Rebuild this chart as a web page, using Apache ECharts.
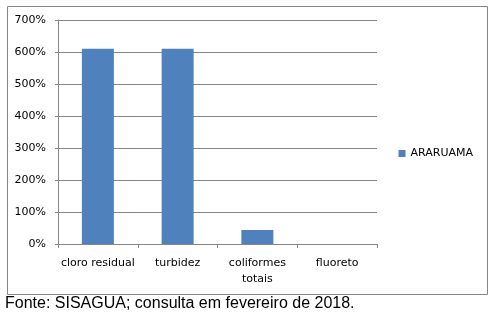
<!DOCTYPE html>
<html><head><meta charset="utf-8">
<script src="https://cdn.jsdelivr.net/npm/echarts@6/dist/echarts.min.js"></script>
<style>html,body{margin:0;padding:0;background:#fff}#c{width:495px;height:323px}</style>
</head><body><div id="c"></div>
<script>
const categories = ['cloro residual', 'turbidez', 'coliformes\ntotais', 'fluoreto'];
const seriesName = 'ARARUAMA';
const values = [610, 610, 44, 0];
const yTicks = [0, 100, 200, 300, 400, 500, 600, 700];
const footnote = 'Fonte: SISAGUA; consulta em fevereiro de 2018.';

const chart = echarts.init(document.getElementById('c'), null, {renderer: 'canvas'});
chart.setOption({
  animation: false,
  backgroundColor: '#fff',
  grid: {left: 58, right: 118, top: 20, bottom: 79, containLabel: false},
  legend: {
    data: [seriesName], right: 17, top: 143, orient: 'vertical',
    itemWidth: 7, itemHeight: 7, itemGap: 4,
    icon: 'rect',
    textStyle: {fontFamily: 'DejaVu Sans', fontSize: 11, color: '#000'}
  },
  xAxis: {
    type: 'category', data: categories,
    axisLine: {lineStyle: {color: '#868686'}},
    axisTick: {show: true, length: 4, alignWithLabel: false, lineStyle: {color: '#868686'}},
    axisLabel: {fontFamily: 'DejaVu Sans', fontSize: 11, color: '#000', margin: 11, lineHeight: 16, interval: 0}
  },
  yAxis: {
    type: 'value', min: yTicks[0], max: yTicks[yTicks.length-1], interval: 100,
    axisLine: {show: true, lineStyle: {color: '#868686'}},
    axisTick: {show: true, length: 3, lineStyle: {color: '#868686'}},
    splitLine: {lineStyle: {color: '#868686'}},
    axisLabel: {fontFamily: 'DejaVu Sans', fontSize: 11, color: '#000', margin: 12, formatter: v => v + '%'}
  },
  series: [{
    name: seriesName, type: 'bar', data: values, barWidth: 32,
    itemStyle: {color: '#4f81bd'}
  }],
  graphic: [
    {type: 'rect', shape: {x: 7.5, y: 6.5, width: 480, height: 288}, style: {fill: null, stroke: '#868686', lineWidth: 1}, z: -1},
    {type: 'text', left: 5, top: 296, style: {text: footnote, fontFamily: 'Liberation Sans', fontSize: 16, fill: '#000'}}
  ]
});
</script></body></html>
